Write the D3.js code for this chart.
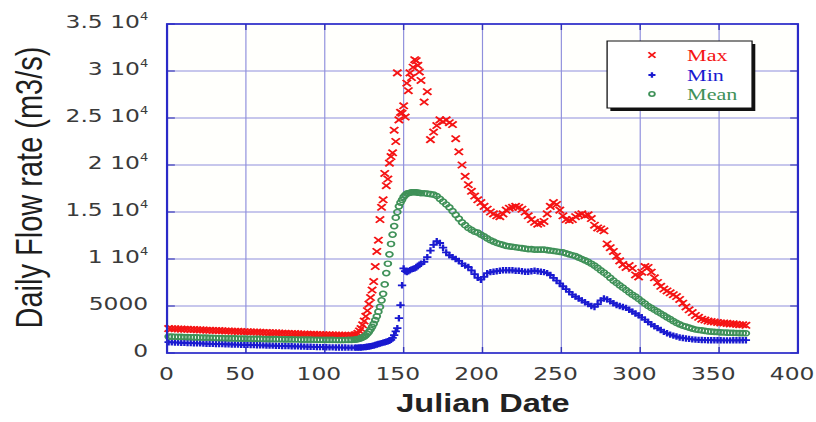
<!DOCTYPE html>
<html>
<head>
<meta charset="utf-8">
<script src="https://cdn.jsdelivr.net/npm/d3@7"></script>
<style>
  html, body { margin: 0; padding: 0; background: #ffffff; }
  svg { display: block; }
</style>
</head>
<body>
<svg id="chart" width="816" height="422"></svg>
<script>
// Julian day sampling: every other day, daily through the spring freshet rise
const days = [...d3.range(1, 120, 2), ...d3.range(120, 161), ...d3.range(161, 368, 2)];

// Daily flow rate statistics (m3/s)
const maxFlow = [
  2600,2590,2570,2560,2540,2530,2520,2500,2490,2470,
  2460,2450,2430,2420,2400,2390,2380,2360,2350,2340,
  2320,2310,2300,2280,2270,2260,2240,2230,2220,2200,
  2190,2180,2160,2150,2140,2120,2110,2100,2080,2070,
  2060,2040,2030,2020,2000,1990,1980,1970,1960,1950,
  1940,1930,1920,1910,1900,1890,1880,1880,1890,1920,
  // days 120-160
  1950,2100,2350,2600,3000,3400,3900,4500,5200,5900,
  6700,7600,9200,10800,12000,14200,15500,16300,19100,17800,
  18500,20200,20900,21300,23700,22500,29800,24800,25600,25500,
  26300,25100,28700,27900,29800,29300,30400,31200,31100,30600,
  29900,
  // days 161-367
  29000,26700,27800,22700,23500,24200,24800,24600,24800,24500,
  24300,22800,21400,20000,18800,17900,17200,16700,16300,16000,
  15600,15300,15000,14800,14600,14500,14800,15200,15400,15500,
  15600,15500,15300,15000,14600,14200,13900,13700,13800,14000,
  14800,15600,16000,15800,15200,14600,14200,14100,14200,14500,
  14700,14800,14600,14700,14300,13600,13300,13200,13000,11600,
  11200,10800,10300,9800,9400,9100,9300,9000,8300,8100,
  8600,9200,9100,8600,8000,7500,7100,6800,6600,6400,
  6200,6000,5700,5300,4900,4600,4300,4000,3800,3600,
  3500,3400,3350,3300,3250,3200,3200,3150,3100,3100,
  3050,3000,3000,2950
];

const minFlow = [
  1150,1130,1120,1100,1090,1080,1060,1050,1040,1030,
  1020,1000,990,980,970,960,950,940,930,920,
  910,900,890,880,870,860,850,840,830,820,
  810,800,790,780,770,760,750,740,730,720,
  710,700,690,680,670,660,650,640,630,620,
  610,600,600,590,590,580,580,570,570,570,
  // days 120-160
  570,575,580,590,600,620,640,660,690,720,
  760,800,850,900,950,1000,1050,1100,1150,1200,
  1250,1300,1400,1600,1900,2300,2650,3700,5100,7200,
  9000,8700,8600,8700,8800,8900,8950,9000,9100,9250,
  9400,
  // days 161-367
  9500,9700,10200,10900,11500,11900,11700,11200,10700,10400,
  10200,10000,9800,9500,9300,9150,8800,8400,8000,7800,
  8100,8500,8600,8650,8700,8750,8800,8800,8800,8800,
  8750,8750,8700,8650,8650,8700,8750,8700,8650,8600,
  8500,8300,8000,7700,7400,7100,6800,6500,6200,6000,
  5800,5600,5400,5200,5000,4900,5200,5600,5800,5700,
  5500,5300,5100,5000,4900,4800,4600,4400,4200,4000,
  3800,3550,3300,3050,2850,2650,2450,2250,2100,1950,
  1850,1750,1650,1600,1550,1500,1450,1420,1400,1380,
  1370,1360,1360,1350,1350,1350,1340,1340,1340,1350,
  1350,1350,1360,1360
];

const meanFlow = [
  1750,1740,1730,1720,1710,1700,1690,1680,1670,1660,
  1650,1640,1630,1620,1610,1600,1590,1580,1570,1560,
  1555,1550,1540,1535,1530,1520,1515,1510,1500,1495,
  1490,1485,1480,1475,1470,1465,1460,1455,1450,1445,
  1440,1435,1430,1425,1420,1415,1410,1405,1400,1400,
  1395,1390,1390,1385,1380,1380,1385,1390,1400,1430,
  // days 120-160
  1450,1480,1520,1580,1660,1750,1880,2050,2250,2500,
  2780,3100,3500,3900,4400,4900,5600,6300,7300,8500,
  9500,10500,11600,12600,13500,14400,15000,15600,16000,16300,
  16600,16800,16950,17000,17050,17100,17100,17100,17100,17050,
  17050,
  // days 161-367
  17000,17000,16950,16900,16850,16700,16400,16100,15800,15500,
  15100,14700,14300,13900,13600,13300,13100,12900,12800,12600,
  12400,12200,12000,11850,11700,11600,11500,11400,11350,11300,
  11250,11200,11150,11100,11050,11050,11000,11000,11000,11000,
  10950,10900,10850,10800,10750,10700,10600,10500,10400,10300,
  10150,10000,9850,9700,9500,9300,9050,8800,8550,8300,
  8000,7700,7450,7200,6950,6700,6450,6200,6000,5750,
  5500,5250,5000,4800,4600,4400,4200,4000,3800,3600,
  3400,3200,3050,2900,2800,2700,2600,2500,2450,2400,
  2350,2300,2280,2250,2230,2200,2180,2160,2150,2140,
  2130,2120,2110,2100
];

const xTicks = [0, 50, 100, 150, 200, 250, 300, 350, 400];
const yTicks = [0, 5000, 10000, 15000, 20000, 25000, 30000, 35000];
const yTickLabels = ["0", "5000", "1 10^4", "1.5 10^4", "2 10^4", "2.5 10^4", "3 10^4", "3.5 10^4"];
const seriesNames = ["Max", "Min", "Mean"];
const seriesColors = ["#f51414", "#1a1ad0", "#3f9158"];
const seriesShapes = ["cross", "plus", "circle"];
const xTitle = "Julian Date";
const yTitle = "Daily Flow rate (m3/s)";

// The whole figure is drawn in a narrower frame and widened horizontally
const widen = 1.3;
const svg = d3.select("#chart");
const root = svg.append("g").attr("transform", `scale(${widen},1)`);

const plot = { left: 128.5, right: 613.8, top: 24, bottom: 353 };
const x = d3.scaleLinear().domain([0, 400]).range([plot.left, plot.right]);
const y = d3.scaleLinear().domain([0, 35000]).range([plot.bottom, plot.top]);

const sansFont = "'Liberation Sans', Arial, sans-serif";
const tickFont = "'DejaVu Sans', Verdana, sans-serif";
const serifFont = "'Liberation Serif', 'Times New Roman', serif";

root.append("rect")
  .attr("x", plot.left).attr("y", plot.top)
  .attr("width", plot.right - plot.left).attr("height", plot.bottom - plot.top)
  .attr("fill", "#fffffc");

// grid lines
const grid = root.append("g").attr("stroke", "#8f8fdc").attr("fill", "none");
grid.selectAll("line.gx").data(xTicks.slice(1, -1)).join("line")
  .attr("class", "gx")
  .attr("x1", d => x(d)).attr("x2", d => x(d))
  .attr("y1", plot.top).attr("y2", plot.bottom)
  .attr("stroke-width", 0.9);
grid.selectAll("line.gy").data(yTicks.slice(1, -1)).join("line")
  .attr("class", "gy")
  .attr("y1", d => y(d)).attr("y2", d => y(d))
  .attr("x1", plot.left).attr("x2", plot.right)
  .attr("stroke-width", 1.2);

// inner tick marks on all four sides
const tickLen = 6;
const ticks = root.append("g").attr("stroke", "#3535b8").attr("stroke-width", 1.1);
ticks.selectAll("line.tb").data(xTicks).join("line").attr("class", "tb")
  .attr("x1", d => x(d)).attr("x2", d => x(d))
  .attr("y1", plot.bottom).attr("y2", plot.bottom - tickLen);
ticks.selectAll("line.tt").data(xTicks).join("line").attr("class", "tt")
  .attr("x1", d => x(d)).attr("x2", d => x(d))
  .attr("y1", plot.top).attr("y2", plot.top + tickLen);
ticks.selectAll("line.tl").data(yTicks).join("line").attr("class", "tl")
  .attr("y1", d => y(d)).attr("y2", d => y(d))
  .attr("x1", plot.left).attr("x2", plot.left + tickLen);
ticks.selectAll("line.tr").data(yTicks).join("line").attr("class", "tr")
  .attr("y1", d => y(d)).attr("y2", d => y(d))
  .attr("x1", plot.right).attr("x2", plot.right - tickLen);

// markers
function drawShape(sel, shape, color, scale = 1) {
  if (shape === "circle") {
    sel.append("circle").attr("r", 2.6 * scale)
      .attr("fill", "none").attr("stroke", color).attr("stroke-width", 1.45);
  } else {
    const a = 3.2 * scale;
    const d = shape === "cross"
      ? `M${-a},${-a}L${a},${a}M${-a},${a}L${a},${-a}`
      : `M${-a},0L${a},0M0,${-a}L0,${a}`;
    sel.append("path").attr("d", d)
      .attr("fill", "none").attr("stroke", color)
      .attr("stroke-width", shape === "cross" ? 1.6 : 1.8);
  }
}

const seriesValues = [maxFlow, minFlow, meanFlow];
// plotting order: Max, Min, then Mean on top
[0, 1, 2].forEach(i => {
  const pts = days.map((d, k) => ({ day: d, value: seriesValues[i][k] }));
  const g = root.append("g");
  g.selectAll("g").data(pts).join("g")
    .attr("transform", p => `translate(${x(p.day)},${y(p.value)})`)
    .each(function () { drawShape(d3.select(this), seriesShapes[i], seriesColors[i]); });
});

// plot frame
root.append("rect")
  .attr("x", plot.left).attr("y", plot.top)
  .attr("width", plot.right - plot.left).attr("height", plot.bottom - plot.top)
  .attr("fill", "none").attr("stroke", "#2a2ac8").attr("stroke-width", 1.7);

// x axis labels
const xAxis = d3.axisBottom(x).tickValues(xTicks).tickSize(0).tickPadding(14);
const gx = root.append("g").attr("transform", `translate(0,${plot.bottom})`).call(xAxis);
gx.select(".domain").remove();
gx.selectAll("text")
  .attr("font-family", tickFont).attr("font-size", 18).attr("fill", "#3a3a3a")
  .attr("dx", d => d === 0 ? -1 : -5);

// y axis labels with superscript exponents
const yAxis = d3.axisLeft(y).tickValues(yTicks).tickSize(0).tickPadding(14.5);
const gy = root.append("g").attr("transform", `translate(${plot.left},0)`).call(yAxis);
gy.select(".domain").remove();
gy.selectAll("text")
  .attr("font-family", tickFont).attr("font-size", 18).attr("fill", "#3a3a3a")
  .attr("dy", "0.17em")
  .each(function (d) {
    const label = yTickLabels[yTicks.indexOf(d)];
    const t = d3.select(this).text(null);
    const parts = label.split("^");
    t.append("tspan").text(parts[0]);
    if (parts.length > 1) {
      t.append("tspan").attr("font-size", 10).attr("dy", "-0.75em").text(parts[1]);
    }
  });

// axis titles
root.append("text")
  .attr("transform", `translate(32,${(40 + 335) / 2}) rotate(-90)`)
  .attr("text-anchor", "middle")
  .attr("font-family", sansFont).attr("font-size", 29).attr("fill", "#1e1e1e")
  .text(yTitle);

root.append("text")
  .attr("x", 371.5).attr("y", 412)
  .attr("text-anchor", "middle")
  .attr("font-family", sansFont).attr("font-size", 25).attr("font-weight", "bold")
  .attr("fill", "#222")
  .text(xTitle);

// legend
const legend = { x: 467, y: 41, w: 111.5, h: 67 };
root.append("rect")
  .attr("x", legend.x + 2.5).attr("y", legend.y + 3)
  .attr("width", legend.w).attr("height", legend.h).attr("fill", "#111");
root.append("rect")
  .attr("x", legend.x).attr("y", legend.y)
  .attr("width", legend.w).attr("height", legend.h)
  .attr("fill", "#ffffff").attr("stroke", "#111").attr("stroke-width", 1);

const legendRows = [55, 75, 94];
seriesNames.forEach((name, i) => {
  const row = root.append("g").attr("transform", `translate(${legend.x},${legendRows[i]})`);
  const m = row.append("g").attr("transform", "translate(34.5,0)");
  drawShape(m, seriesShapes[i], seriesColors[i], 0.85);
  row.append("text")
    .attr("x", 61.5).attr("y", 0).attr("dy", "0.35em")
    .attr("font-family", serifFont).attr("font-size", 17)
    .attr("fill", seriesColors[i])
    .text(name);
});
</script>
</body>
</html>
